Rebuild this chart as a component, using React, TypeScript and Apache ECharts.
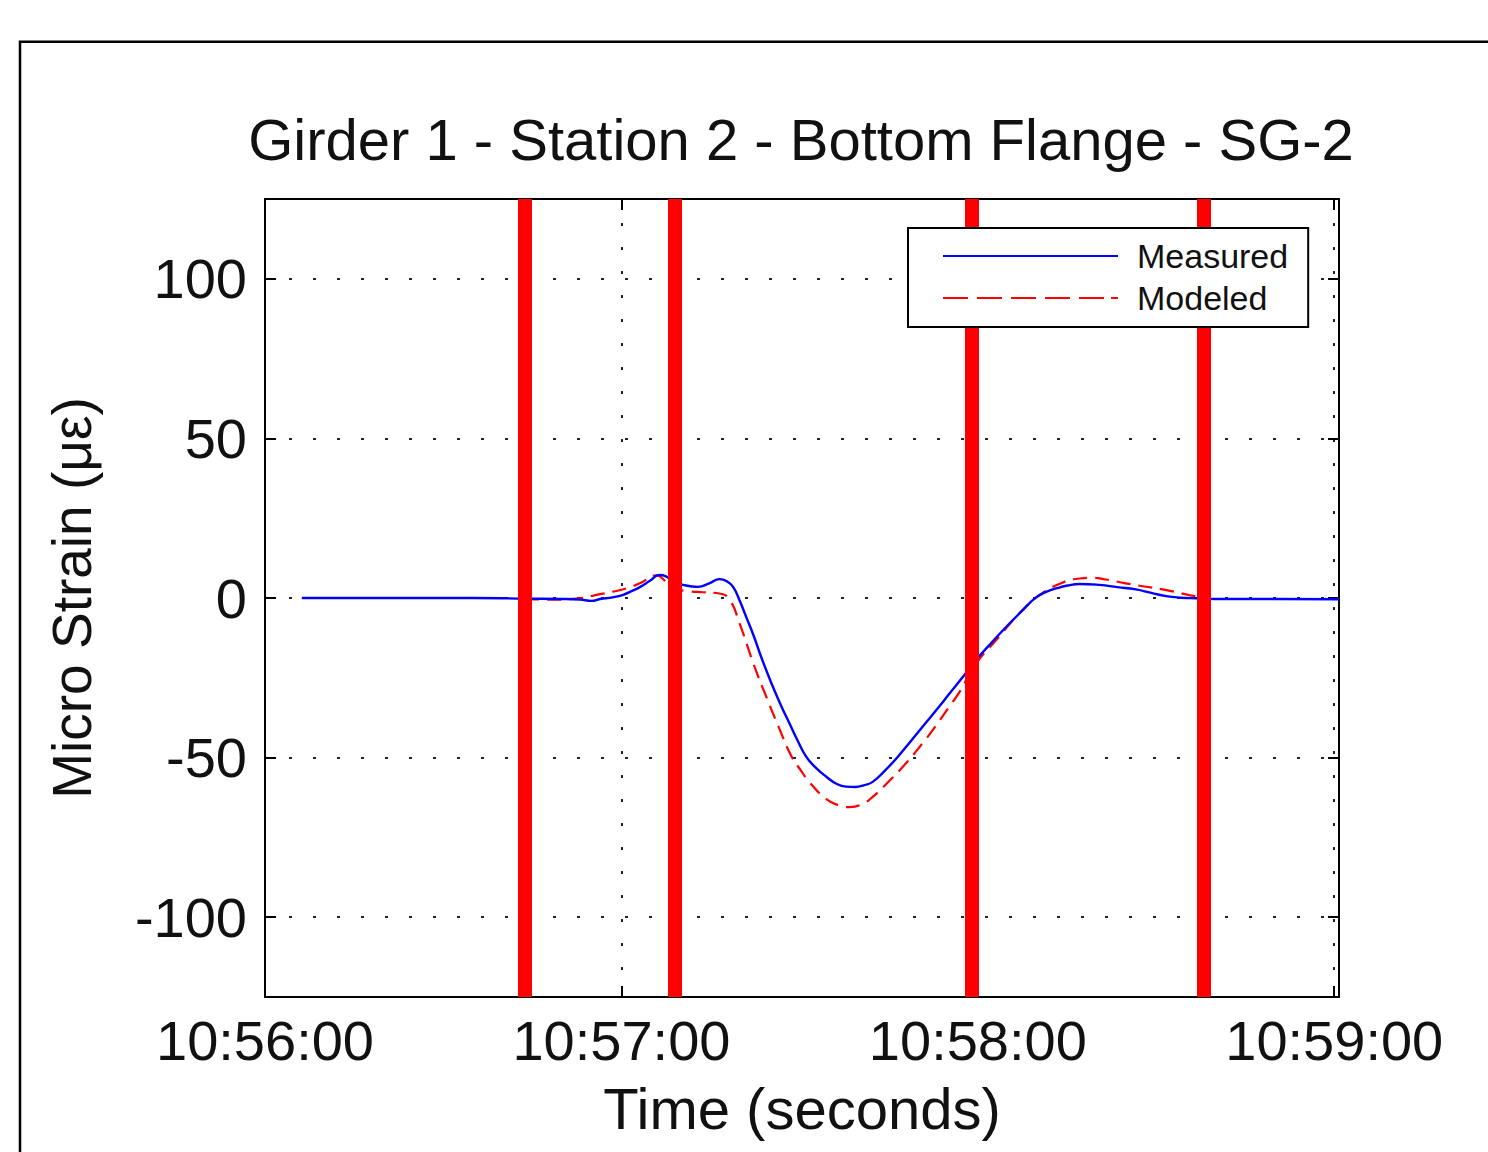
import { useEffect, useRef } from 'react';
import * as echarts from 'echarts';

const titleText = 'Girder 1 - Station 2 - Bottom Flange - SG-2';
const xAxisTitle = 'Time (seconds)';
const yAxisTitle = 'Micro Strain (με)';
const startClock = [10, 56, 0];
const xTicks = [0, 60, 120, 180];
const yTicks = [-100, -50, 0, 50, 100];
const eventTimes = [43.8, 69.0, 118.95, 158.0];

const measuredTime = [6.2, 20, 35, 43.8, 50, 53, 55, 56.4, 58.5, 60.3, 62, 63.1, 64.8, 66.4, 67.5, 68.7, 70.4, 72.9, 74.8, 76.5, 77.8, 78.8, 79.9, 81, 82.2, 83.3, 84.4, 85.5, 86.9, 88.3, 89.7, 91.1, 92.8, 94.5, 96.2, 97.8, 99.4, 100.9, 102.3, 104.4, 106.5, 108.6, 110.7, 113.5, 115.2, 117.5, 119.7, 122.2, 124.8, 127.3, 129.8, 131.5, 133.2, 135.1, 137.1, 140.5, 143.5, 146.6, 149.2, 151.7, 154.2, 156.7, 160, 170, 180.8];
const measuredStrain = [0, 0, 0, -0.2, -0.3, -0.5, -0.9, -0.3, 0.2, 1.0, 2.4, 3.4, 5.4, 7.2, 6.8, 5.2, 4.1, 3.5, 4.6, 5.9, 5.2, 3.5, -0.8, -5.9, -11.5, -17.3, -22.7, -27.8, -33.8, -39.3, -44.8, -49.7, -53.3, -56, -58.2, -59.1, -59.2, -58.6, -57.6, -54, -49.8, -45.1, -40.3, -34, -30.0, -24.7, -19.4, -14.2, -9, -4.3, 0.2, 1.9, 3.0, 3.9, 4.4, 4.1, 3.4, 2.7, 1.6, 0.6, 0.1, -0.1, -0.3, -0.3, -0.4];

const modeledTime = [43.8, 48, 52.4, 56.4, 58.6, 60.8, 63.1, 65.9, 67.2, 68.7, 71.5, 73.7, 76.5, 78.2, 79.9, 81.2, 82.5, 84.4, 86.6, 88.6, 90.2, 91.7, 94.5, 96.7, 98.4, 100.5, 102.3, 105, 107.9, 110.7, 112.4, 115.2, 116.9, 119.7, 123.1, 127, 130.4, 133.7, 137.1, 139.3, 141.5, 144.9, 148, 151.1, 155.6, 158.0];
const modeledStrain = [-0.4, -0.5, -0.2, 1.2, 2.0, 3.0, 4.6, 7.1, 5.6, 3.0, 2.1, 1.8, 1.4, -0.5, -8, -15, -22, -31, -41, -49.5, -54, -57.8, -63, -65, -65.5, -64.6, -62.3, -57.5, -51.8, -45.5, -41.4, -34, -29.5, -20.5, -13.2, -4.8, 0.9, 4.4, 6.1, 6.3, 5.8, 4.6, 3.6, 2.7, 0.9, 0];

const FONT = '"Liberation Sans", Arial, Helvetica, sans-serif';
const SOLID_ICON = 'path://M0,0h175v2.2h-175z';
const DASH_ICON = 'path://M0,0h25v2.2h-25zM34,0h25v2.2h-25zM68,0h25v2.2h-25zM102,0h25v2.2h-25zM136,0h25v2.2h-25zM168,0h7v2.2h-7z';

function clockLabel(v: number): string {
  const total = startClock[0] * 3600 + startClock[1] * 60 + startClock[2] + Math.round(v);
  const h = Math.floor(total / 3600);
  const m = Math.floor((total % 3600) / 60);
  const s = total % 60;
  return `${h}:${String(m).padStart(2, '0')}:${String(s).padStart(2, '0')}`;
}

export default function App() {
  const ref = useRef<HTMLDivElement>(null);
  useEffect(() => {
    if (!ref.current) return;
    const chart = echarts.init(ref.current, null, { renderer: 'svg' });
    const X_MIN = 0, X_MAX = 180.8, Y_MIN = -125, Y_MAX = 125;
    const axisLine = { show: true, onZero: false, lineStyle: { color: '#000', width: 2 } };
    const tick = { show: true, inside: true, length: 11, lineStyle: { color: '#000', width: 2 } };
    const grid = { type: [3, 21], color: '#222', width: 2 };
    chart.setOption({
      animation: false,
      backgroundColor: '#fff',
      textStyle: { fontFamily: FONT, color: '#111' },
      title: {
        text: titleText,
        left: 801,
        top: 110,
        textAlign: 'center',
        padding: 0,
        textStyle: { fontFamily: FONT, fontSize: 58, fontWeight: 'normal', color: '#111' },
      },
      grid: { left: 265, top: 199, width: 1074, height: 798, containLabel: false },
      legend: {
        orient: 'vertical',
        left: 908,
        top: 228,
        align: 'left',
        z: 20,
        itemWidth: 175,
        itemHeight: 20,
        itemGap: 8,
        padding: [11, 20, 12, 35],
        borderColor: '#000',
        borderWidth: 2,
        backgroundColor: '#fff',
        borderRadius: 0,
        formatter: (name: string) => `{g|}${name}`,
        textStyle: {
          fontFamily: FONT, fontSize: 34, lineHeight: 34, color: '#111',
          rich: { g: { width: 14, lineHeight: 34 } },
        },
        data: [
          { name: 'Measured', icon: SOLID_ICON, itemStyle: { color: '#0000ff' } },
          { name: 'Modeled', icon: DASH_ICON, itemStyle: { color: '#ff0000' } },
        ],
        selectedMode: false,
      },
      xAxis: [
        {
          type: 'value', position: 'bottom', min: X_MIN, max: X_MAX,
          axisLine, axisTick: { ...tick, customValues: xTicks },
          axisLabel: { customValues: xTicks, formatter: clockLabel, fontSize: 56, color: '#111', fontFamily: FONT, margin: 15 },
          splitLine: { show: true, lineStyle: grid },
          name: xAxisTitle, nameLocation: 'middle', nameGap: 82,
          nameTextStyle: { fontSize: 58, color: '#111', fontFamily: FONT },
        },
        {
          type: 'value', position: 'top', min: X_MIN, max: X_MAX,
          axisLine, axisTick: { ...tick, customValues: xTicks },
          axisLabel: { show: false, customValues: xTicks }, splitLine: { show: false },
        },
      ],
      yAxis: [
        {
          type: 'value', position: 'left', min: Y_MIN, max: Y_MAX,
          axisLine, axisTick: { ...tick, customValues: yTicks },
          axisLabel: { customValues: yTicks, fontSize: 56, color: '#111', fontFamily: FONT, margin: 18 },
          splitLine: { show: true, lineStyle: grid },
          name: yAxisTitle, nameLocation: 'middle', nameGap: 166,
          nameTextStyle: { fontSize: 55, color: '#111', fontFamily: FONT },
        },
        {
          type: 'value', position: 'right', min: Y_MIN, max: Y_MAX,
          axisLine, axisTick: { ...tick, customValues: yTicks },
          axisLabel: { show: false, customValues: yTicks }, splitLine: { show: false },
        },
      ],
      graphic: [
        {
          type: 'rect', silent: true, z: -10,
          shape: { x: 20, y: 41.7, width: 1500, height: 1200 },
          style: { fill: 'none', stroke: '#000', lineWidth: 2.5 },
        },
      ],
      series: [
        {
          name: 'Modeled', type: 'line', xAxisIndex: 0, yAxisIndex: 0,
          data: modeledTime.map((t, i) => [t, modeledStrain[i]]),
          symbol: 'none', showSymbol: false, smooth: 0.5,
          lineStyle: { color: '#ff0000', width: 2.2, type: [14, 8] },
          itemStyle: { color: '#ff0000' },
          emphasis: { disabled: true }, z: 2,
        },
        {
          name: 'Measured', type: 'line', xAxisIndex: 0, yAxisIndex: 0,
          data: measuredTime.map((t, i) => [t, measuredStrain[i]]),
          symbol: 'none', showSymbol: false, smooth: 0.5,
          lineStyle: { color: '#0000ff', width: 2.4 },
          itemStyle: { color: '#0000ff' },
          emphasis: { disabled: true }, z: 3,
        },
        {
          name: 'Events', type: 'line', xAxisIndex: 0, yAxisIndex: 0,
          data: [], z: 5,
          markLine: {
            silent: true, symbol: ['none', 'none'], label: { show: false },
            lineStyle: { color: '#ff0000', width: 14, type: 'solid' },
            emphasis: { disabled: true },
            data: eventTimes.map((t) => ({ xAxis: t })),
          },
        },
      ],
    });
    return () => chart.dispose();
  }, []);
  return <div ref={ref} style={{ position: 'absolute', left: 0, top: 0, width: 1488, height: 1152 }} />;
}
